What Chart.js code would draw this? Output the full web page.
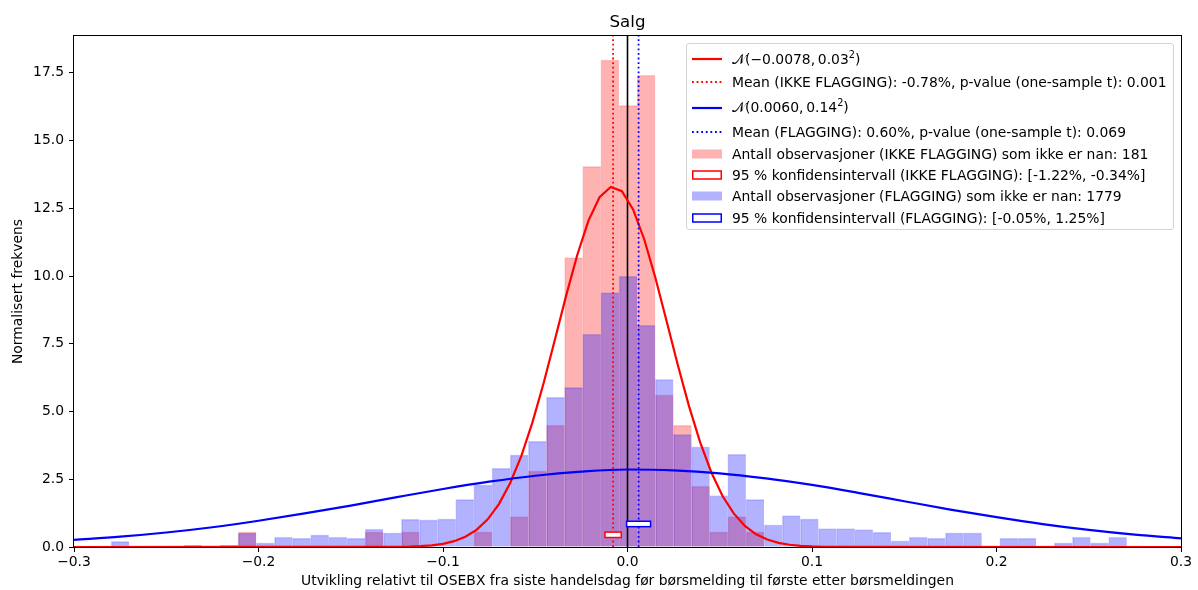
<!DOCTYPE html>
<html>
<head>
<meta charset="utf-8">
<title>Salg</title>
<script src="https://cdn.jsdelivr.net/npm/chart.js@4.4.1/dist/chart.umd.min.js"></script>
<style>
  body { margin: 0; background: #fff; }
  #wrap { position: relative; width: 1198px; height: 590px; }
  #legend {
    position: absolute; left: 686px; top: 43px; width: 488px; height: 187px;
    box-sizing: border-box; border: 1px solid #d4d4d4; border-radius: 3px;
    background: rgba(255, 255, 255, 0.8);
    font: 13.9px "DejaVu Sans", sans-serif; color: #000;
  }
  #legend .row { position: absolute; left: 0; height: 20px; display: flex; align-items: center; white-space: nowrap; }
  #legend svg { margin-left: 5px; margin-right: 10px; flex: none; }
  #legend sup { font-size: 70%; line-height: 0; }
</style>
</head>
<body>
<div id="wrap">
  <canvas id="chart" width="1198" height="590"></canvas>
  <div id="legend"></div>
</div>
<script>
// Histogram bins (centres) shared by both groups
const binCenters = [
  -0.27498, -0.26515, -0.25532, -0.24549, -0.23566, -0.22583, -0.21600, -0.20617,
  -0.19634, -0.18651, -0.17668, -0.16685, -0.15702, -0.14719, -0.13736, -0.12753,
  -0.11770, -0.10787, -0.09804, -0.08821, -0.07838, -0.06855, -0.05872, -0.04889,
  -0.03906, -0.02923, -0.01940, -0.00957, 0.00026, 0.01009, 0.01992, 0.02975,
  0.03958, 0.04941, 0.05924, 0.06907, 0.07890, 0.08873, 0.09856, 0.10839,
  0.11822, 0.12805, 0.13788, 0.14771, 0.15754, 0.16737, 0.17720, 0.18703,
  0.19686, 0.20669, 0.21652, 0.22635, 0.23618, 0.24601, 0.25584, 0.26567
];

// Normalised frequency, IKKE FLAGGING (n = 181)
const densityIkke = [
  0, 0, 0, 0, 0, 0, 0, 0.56,
  0, 0, 0, 0, 0, 0, 0.56, 0,
  0.56, 0, 0, 0, 0.56, 0, 1.12, 2.81,
  4.50, 10.68, 14.05, 17.98, 16.30, 17.42, 5.62, 4.50,
  2.25, 0.56, 1.12, 0.56, 0, 0, 0, 0,
  0, 0, 0, 0, 0, 0, 0, 0,
  0, 0, 0, 0, 0, 0, 0, 0
];

// Normalised frequency, FLAGGING (n = 1779)
const densityFlagging = [
  0.21, 0, 0, 0, 0.06, 0, 0.06, 0.52,
  0.15, 0.37, 0.33, 0.45, 0.37, 0.33, 0.66, 0.52,
  1.03, 1.00, 1.04, 1.76, 2.29, 2.91, 3.40, 3.91,
  5.53, 5.89, 7.86, 9.39, 10.00, 8.19, 6.19, 4.16,
  3.70, 1.90, 3.43, 1.76, 0.82, 1.16, 1.04, 0.68,
  0.68, 0.64, 0.55, 0.23, 0.37, 0.33, 0.52, 0.52,
  0, 0.33, 0.33, 0, 0.15, 0.37, 0.15, 0.37
];

// Fitted normal curve, IKKE FLAGGING
const normalIkkeX = [
  -0.3, -0.11818, -0.11212, -0.10606, -0.10000, -0.09394, -0.08788, -0.08182,
  -0.07576, -0.06970, -0.06364, -0.05758, -0.05152, -0.04545, -0.03939, -0.03333,
  -0.02727, -0.02121, -0.01515, -0.00909, -0.00303, 0.00303, 0.00909, 0.01515,
  0.02121, 0.02727, 0.03333, 0.03939, 0.04545, 0.05152, 0.05758, 0.06364,
  0.06970, 0.07576, 0.08182, 0.08788, 0.09394, 0.10000, 0.10606, 0.11212, 0.3
];
const normalIkkeY = [
  0, 0.015, 0.032, 0.062, 0.118, 0.215, 0.377, 0.634,
  1.022, 1.583, 2.353, 3.357, 4.60, 6.05, 7.64, 9.26,
  10.77, 12.04, 12.91, 13.29, 13.13, 12.46, 11.35, 9.93,
  8.33, 6.72, 5.20, 3.86, 2.75, 1.88, 1.24, 0.78,
  0.47, 0.275, 0.154, 0.082, 0.042, 0.021, 0.010, 0.0045, 0
];

// Fitted normal curve, FLAGGING
const normalFlaggingX = [
  -0.300, -0.275, -0.250, -0.225, -0.200, -0.175, -0.150, -0.125, -0.100,
  -0.075, -0.050, -0.025, 0.000, 0.025, 0.050, 0.075, 0.100,
  0.125, 0.150, 0.175, 0.200, 0.225, 0.250, 0.275, 0.300
];
const normalFlaggingY = [
  0.26, 0.38, 0.535, 0.73, 0.97, 1.24, 1.53, 1.84, 2.14,
  2.41, 2.63, 2.78, 2.86, 2.83, 2.72, 2.53, 2.29,
  2.00, 1.69, 1.38, 1.10, 0.845, 0.63, 0.455, 0.32
];

// Means and 95 % confidence intervals
const meanIkke = -0.0078;
const meanFlagging = 0.0060;
const ciIkke = [-0.0122, -0.0034];
const ciFlagging = [-0.0005, 0.0125];
const ciIkkeBand = [0.35, 0.55];
const ciFlaggingBand = [0.75, 0.95];

const xTicks = [-0.3, 0.3];
const yMax = 18.86;

const toPoints = (xs, ys) => xs.map((x, i) => ({ x: x, y: ys[i] }));
const fmtTick = v => {
  if (Math.abs(v) < 1e-9) return "0.0";
  return v.toFixed(1).replace("-", "\u2212");
};

// ------------------------------
// CI boxes + axes frame
// ------------------------------
const overlays = {
  id: "overlays",
  afterDatasetsDraw(chart) {
    const { ctx, scales: { x, y } } = chart;
    const boxes = [
      { xs: ciIkke, ys: ciIkkeBand, color: "red" },
      { xs: ciFlagging, ys: ciFlaggingBand, color: "blue" }
    ];
    ctx.save();
    boxes.forEach(b => {
      const x0 = x.getPixelForValue(b.xs[0]);
      const x1 = x.getPixelForValue(b.xs[1]);
      const y0 = y.getPixelForValue(b.ys[1]);
      const y1 = y.getPixelForValue(b.ys[0]);
      ctx.fillStyle = "#fff";
      ctx.fillRect(x0, y0, x1 - x0, y1 - y0);
      ctx.strokeStyle = b.color;
      ctx.lineWidth = 1.5;
      ctx.strokeRect(x0, y0, x1 - x0, y1 - y0);
    });
    ctx.restore();
  },
  afterDraw(chart) {
    const { ctx, chartArea: a } = chart;
    ctx.save();
    ctx.strokeStyle = "#000";
    ctx.lineWidth = 1;
    const l = Math.round(a.left) - 0.5, r = Math.round(a.right) + 0.5;
    const t = Math.round(a.top) - 0.5, b = Math.round(a.bottom) + 0.5;
    ctx.strokeRect(l, t, r - l, b - t);
    ctx.restore();
  }
};

// ------------------------------
// Chart
// ------------------------------
Chart.defaults.font.family = "'DejaVu Sans', sans-serif";
Chart.defaults.font.size = 13.9;
Chart.defaults.color = "#000";

const barStyle = {
  type: "bar",
  grouped: false,
  barPercentage: 1,
  categoryPercentage: 1,
  borderWidth: { top: 1, left: 1, right: 0, bottom: 0 },
  borderSkipped: "start"
};
const lineStyle = {
  type: "line",
  pointRadius: 0,
  fill: false,
  tension: 0
};

new Chart(document.getElementById("chart"), {
  type: "bar",
  data: {
    datasets: [
      Object.assign({}, barStyle, {
        label: "IKKE FLAGGING",
        data: toPoints(binCenters, densityIkke),
        backgroundColor: "rgba(255,0,0,0.3)",
        borderColor: "rgba(255,0,0,0.16)",
        order: 7
      }),
      Object.assign({}, barStyle, {
        label: "FLAGGING",
        data: toPoints(binCenters, densityFlagging),
        backgroundColor: "rgba(0,0,255,0.3)",
        borderColor: "rgba(0,0,255,0.16)",
        order: 6
      }),
      Object.assign({}, lineStyle, {
        label: "zero",
        data: [{ x: 0, y: 0 }, { x: 0, y: yMax }],
        borderColor: "#000",
        borderWidth: 1.6,
        order: 5
      }),
      Object.assign({}, lineStyle, {
        label: "normal IKKE",
        data: toPoints(normalIkkeX, normalIkkeY),
        borderColor: "red",
        borderWidth: 2.2,
        order: 4
      }),
      Object.assign({}, lineStyle, {
        label: "mean IKKE",
        data: [{ x: meanIkke, y: 0 }, { x: meanIkke, y: yMax }],
        borderColor: "red",
        borderWidth: 1.8,
        borderDash: [1.8, 2.8],
        order: 3
      }),
      Object.assign({}, lineStyle, {
        label: "normal FLAGGING",
        data: toPoints(normalFlaggingX, normalFlaggingY),
        borderColor: "blue",
        borderWidth: 2.2,
        cubicInterpolationMode: "monotone",
        order: 2
      }),
      Object.assign({}, lineStyle, {
        label: "mean FLAGGING",
        data: [{ x: meanFlagging, y: 0 }, { x: meanFlagging, y: yMax }],
        borderColor: "blue",
        borderWidth: 1.8,
        borderDash: [1.8, 2.8],
        order: 1
      })
    ]
  },
  options: {
    responsive: false,
    animation: false,
    layout: { padding: { left: 0, right: 17, top: 0, bottom: 0 } },
    plugins: {
      legend: { display: false },
      tooltip: { enabled: false },
      title: {
        display: true,
        text: "Salg",
        fullSize: false,
        color: "#000",
        font: { size: 16.67, weight: "normal" },
        padding: { top: 13, bottom: 3 }
      }
    },
    scales: {
      x: {
        type: "linear",
        min: xTicks[0],
        max: xTicks[1],
        offset: false,
        ticks: { stepSize: 0.1, callback: fmtTick, padding: 2, maxRotation: 0, autoSkip: false },
        grid: { display: true, offset: false, drawOnChartArea: false, drawTicks: true, tickLength: 5, color: "#000" },
        border: { display: false },
        title: {
          display: true,
          text: "Utvikling relativt til OSEBX fra siste handelsdag før børsmelding til første etter børsmeldingen",
          padding: { top: 0, bottom: 0 }
        },
        afterFit: s => { s.height = 43; }
      },
      y: {
        type: "linear",
        min: 0,
        max: yMax,
        ticks: { stepSize: 2.5, includeBounds: false, callback: v => v.toFixed(1), padding: 5 },
        grid: { display: true, drawOnChartArea: false, drawTicks: true, tickLength: 5, color: "#000" },
        border: { display: false },
        title: { display: true, text: "Normalisert frekvens", padding: { top: 10, bottom: 0 } },
        afterFit: s => { s.width = 74; }
      }
    }
  },
  plugins: [overlays]
});

// ------------------------------
// Legend
// ------------------------------
const legendItems = [
  { kind: "line", color: "red", top: 15, html: "&#x1D4A9;(\u22120.0078,&#8201;0.03<sup>2</sup>)" },
  { kind: "dots", color: "red", top: 38, html: "Mean (IKKE FLAGGING): -0.78%, p-value (one-sample t): 0.001" },
  { kind: "line", color: "blue", top: 63.5, html: "&#x1D4A9;(0.0060,&#8201;0.14<sup>2</sup>)" },
  { kind: "dots", color: "blue", top: 87.5, html: "Mean (FLAGGING): 0.60%, p-value (one-sample t): 0.069" },
  { kind: "patch", color: "rgba(255,0,0,0.3)", top: 109.5, html: "Antall observasjoner (IKKE FLAGGING) som ikke er nan: 181" },
  { kind: "box", color: "red", top: 130.5, html: "95 % konfidensintervall (IKKE FLAGGING): [-1.22%, -0.34%]" },
  { kind: "patch", color: "rgba(0,0,255,0.3)", top: 151.5, html: "Antall observasjoner (FLAGGING) som ikke er nan: 1779" },
  { kind: "box", color: "blue", top: 173.5, html: "95 % konfidensintervall (FLAGGING): [-0.05%, 1.25%]" }
];

function handleSvg(item) {
  let shape = "";
  if (item.kind === "line") {
    shape = `<line x1="0" y1="5" x2="30" y2="5" stroke="${item.color}" stroke-width="2.2"/>`;
  } else if (item.kind === "dots") {
    shape = `<line x1="0" y1="5" x2="30" y2="5" stroke="${item.color}" stroke-width="1.8" stroke-dasharray="1.8 2.8"/>`;
  } else if (item.kind === "patch") {
    shape = `<rect x="0" y="0.5" width="30" height="9" fill="${item.color}"/>`;
  } else {
    shape = `<rect x="0.75" y="1" width="28.5" height="8" fill="#fff" stroke="${item.color}" stroke-width="1.5"/>`;
  }
  return `<svg width="30" height="10" viewBox="0 0 30 10">${shape}</svg>`;
}

const legendEl = document.getElementById("legend");
legendItems.forEach(item => {
  const row = document.createElement("div");
  row.className = "row";
  row.style.top = (item.top - 10) + "px";
  row.innerHTML = handleSvg(item) + `<span>${item.html}</span>`;
  legendEl.appendChild(row);
});
</script>
</body>
</html>
